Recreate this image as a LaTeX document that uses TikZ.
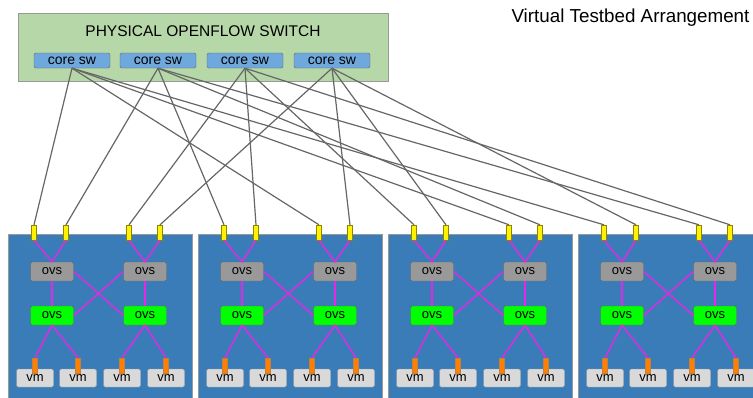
\documentclass[tikz,border=0pt]{standalone}
\usepackage{fontspec}
\setmainfont{Liberation Sans}
\definecolor{physgreen}{RGB}{182,215,168}
\definecolor{coreblue}{RGB}{111,168,220}
\definecolor{hostblue}{RGB}{58,124,184}
\definecolor{ovsgrey}{RGB}{153,153,153}
\definecolor{vmgrey}{RGB}{217,217,217}
\definecolor{linkgrey}{RGB}{102,102,102}
\definecolor{vlink}{RGB}{228,40,228}
\tikzset{
  physbox/.style={draw=ovsgrey, fill=physgreen, minimum width=370pt, minimum height=68pt, inner sep=0pt},
  corebox/.style={draw=linkgrey, fill=coreblue, rounded corners=1.5pt, minimum width=76pt, minimum height=15pt, inner sep=0pt, font=\fontsize{14}{14}\selectfont},
  hostbox/.style={draw=ovsgrey, fill=hostblue, minimum width=184pt, minimum height=175pt, inner sep=0pt, anchor=north west},
  ovsbox/.style={draw=linkgrey, fill=ovsgrey, rounded corners=1.5pt, minimum width=43pt, minimum height=19pt, inner sep=0pt, font=\fontsize{13}{13}\selectfont},
  brbox/.style={ovsbox, fill=green},
  vmbox/.style={draw=ovsgrey, fill=vmgrey, rounded corners=1.5pt, minimum width=37pt, minimum height=18pt, inner sep=0pt, font=\fontsize{13}{13}\selectfont},
  upport/.style={draw=olive, fill=yellow, minimum width=5pt, minimum height=15pt, inner sep=0pt},
  nicport/.style={draw=brown, fill=orange, minimum width=5pt, minimum height=15pt, inner sep=0pt},
  uplink/.style={draw=linkgrey, line width=1.2pt},
  vswlink/.style={draw=vlink, line width=1.4pt}
}
\begin{document}
\begin{tikzpicture}[x=1pt,y=-1pt]
\clip (0,0) rectangle (753,397);
\node[physbox] (phys) at (203,47) {};
\node[font=\fontsize{15.5}{16}\selectfont] (physlabel) at (203,31) {PHYSICAL OPENFLOW SWITCH};
\foreach \c/\x in {1/72,2/158,3/245,4/332}
  \node[corebox] (core\c) at (\x,60.5) {core sw};
\node[anchor=west, font=\fontsize{18.8}{19}\selectfont] (caption) at (508,18) {Virtual Testbed Arrangement};

% one host per blue box
\foreach \b/\l in {1/8,2/198,3/388,4/578}{
  \node[hostbox] (host\b) at (\l,234) {};
  \node[ovsbox] (ovsA\b) at (\l+44,271.5) {ovs};
  \node[ovsbox] (ovsB\b) at (\l+137,271.5) {ovs};
  \node[brbox] (brA\b) at (\l+44,315.5) {ovs};
  \node[brbox] (brB\b) at (\l+137,315.5) {ovs};
  \foreach \p/\u/\v in {1/26/27,2/58/70,3/121/114,4/152/158}{
    \node[upport] (up\b-\p) at (\l+\u,232.5) {};
    \node[vmbox] (vm\b-\p) at (\l+\v,378) {vm};
    \node[nicport] (nic\b-\p) at (\l+\v,365.5) {};
  }
  \draw[vswlink] (up\b-1.south) -- (ovsA\b.north) -- (up\b-2.south);
  \draw[vswlink] (up\b-3.south) -- (ovsB\b.north) -- (up\b-4.south);
  \draw[vswlink] (ovsA\b) -- (brA\b);
  \draw[vswlink] (ovsB\b) -- (brB\b);
  \draw[vswlink] (ovsA\b.east) -- (brB\b.west);
  \draw[vswlink] (ovsB\b.west) -- (brA\b.east);
  \draw[vswlink] (nic\b-1.north) -- (brA\b.south) -- (nic\b-2.north);
  \draw[vswlink] (nic\b-3.north) -- (brB\b.south) -- (nic\b-4.north);
}

% core sw to host uplinks
\foreach \c/\b/\p in {1/1/1,2/1/2,3/1/3,4/1/4,2/2/1,3/2/2,1/2/3,4/2/4,
                      3/3/1,4/3/2,1/3/3,2/3/4,1/4/1,4/4/2,2/4/3,3/4/4}
  \draw[uplink] (core\c.south) -- (up\b-\p.north);
\end{tikzpicture}
\end{document}
